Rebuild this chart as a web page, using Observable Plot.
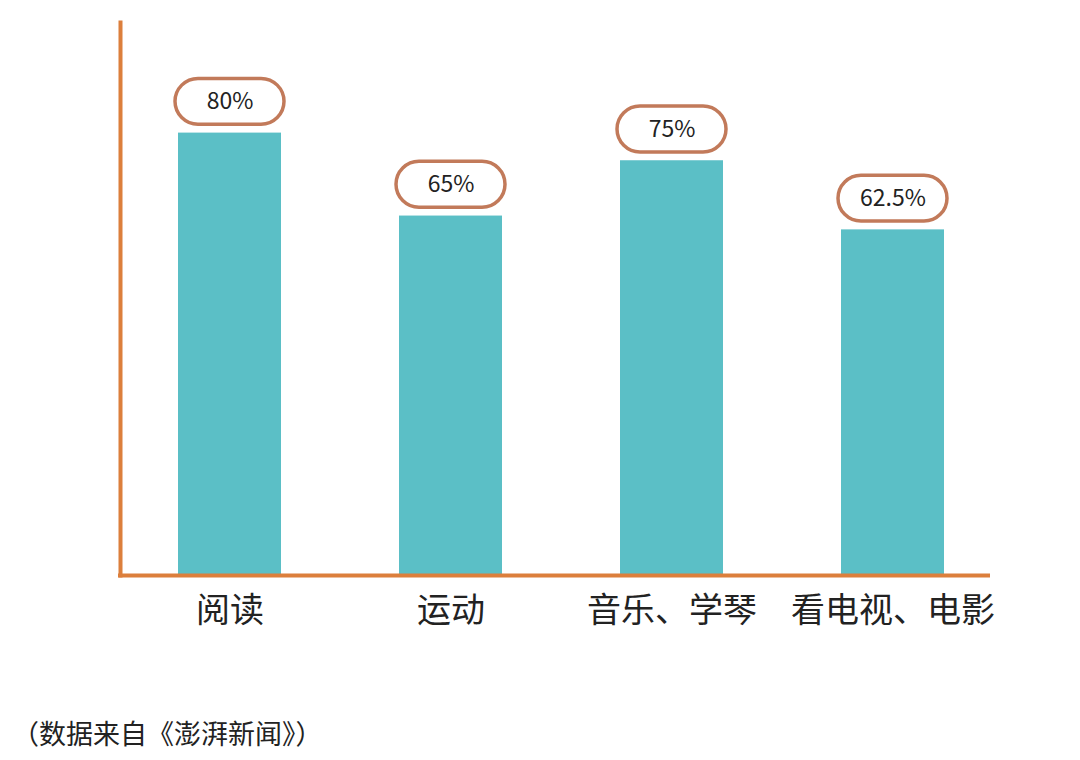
<!DOCTYPE html>
<html>
<head>
<meta charset="utf-8">
<script src="https://cdn.jsdelivr.net/npm/d3@7"></script>
<script src="https://cdn.jsdelivr.net/npm/@observablehq/plot@0.6"></script>
<style>
  body { margin: 0; background: #fff; font-family: "Noto Sans CJK SC", "Noto Sans", sans-serif; }
  #caption { margin-top: 55px; padding-left: 12px; font-size: 27px; line-height: 36px; color: #222; }
</style>
</head>
<body>
<div id="chart"></div>
<div id="caption">（数据来自《澎湃新闻》）</div>
<script>
const categories = ["阅读", "运动", "音乐、学琴", "看电视、电影"];
const values = [80, 65, 75, 62.5];
const valueLabels = ["80%", "65%", "75%", "62.5%"];

const data = categories.map((c, i) => ({cat: c, v: values[i], label: valueLabels[i]}));

const orange = "#dc7f3c";
const teal = "#5bbfc6";
const pillStroke = "#c27a5a";

const chart = Plot.plot({
  width: 1080,
  height: 660,
  marginTop: 22,
  marginBottom: 85,
  marginLeft: 120,
  marginRight: 77,
  style: {fontFamily: "\"Noto Sans CJK SC\", sans-serif", fontSize: "34px", color: "#222", background: "#fff"},
  x: {domain: categories, padding: 0.533, paddingOuter: 0.263, tickSize: 0, tickPadding: 22, label: null},
  y: {domain: [0, 100], axis: null},
  marks: [
    Plot.barY(data, {x: "cat", y: "v", fill: teal}),
    Plot.frame({anchor: "left", stroke: orange, strokeWidth: 4}),
    Plot.ruleY([0], {stroke: orange, strokeWidth: 4, insetLeft: -2, insetRight: 13}),
    Plot.barY(data, {x: "cat", y1: d => d.v + 1.5, y2: d => d.v + 9.8, fill: "#fff", stroke: pillStroke, strokeWidth: 3.5, insetLeft: -3, insetRight: -3, rx: 23}),
    Plot.text(data, {x: "cat", y: d => d.v + 5.65, text: "label", fontSize: 23, fill: "#222"})
  ]
});
document.getElementById("chart").appendChild(chart);
</script>
</body>
</html>
